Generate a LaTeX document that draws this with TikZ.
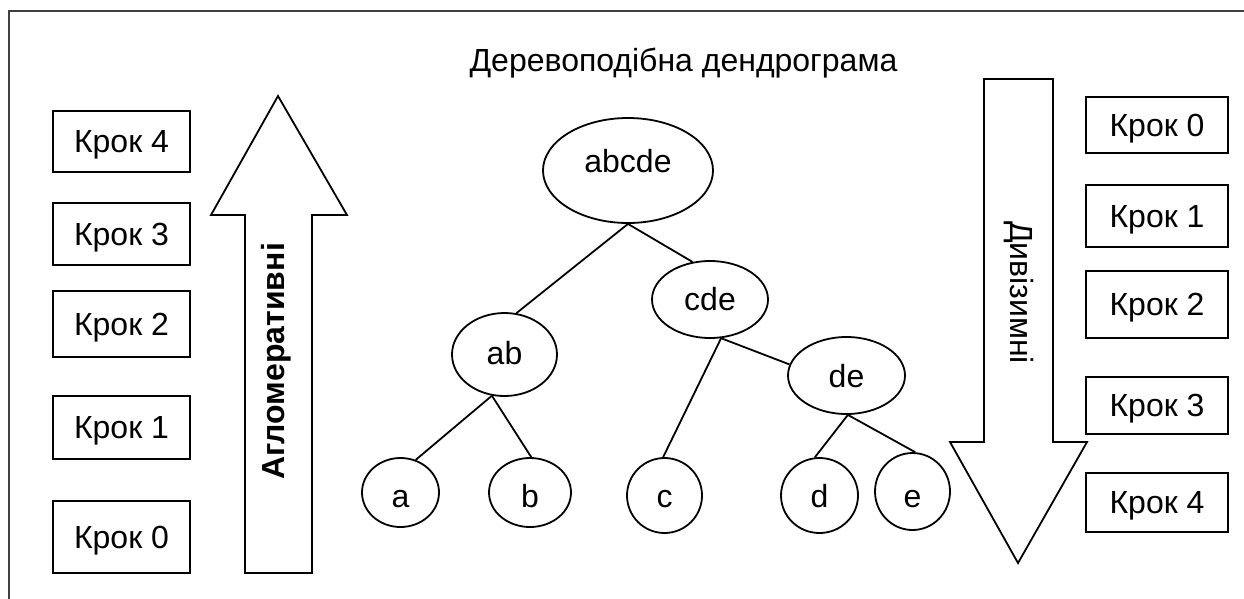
\documentclass[tikz,border=0pt]{standalone}
\usepackage{fontspec}
\setmainfont{Liberation Sans}
\usetikzlibrary{shapes.geometric}
\begin{document}
\begin{tikzpicture}[x=1pt,y=-1pt,
  every node/.style={font=\fontsize{32}{38}\selectfont},
  stepbox/.style={draw, line width=2pt, rectangle, inner sep=0pt, text depth=0pt},
  lbox/.style={stepbox, minimum width=137pt},
  rbox/.style={stepbox, minimum width=142pt},
  tnode/.style={draw, ellipse, line width=1.8pt, inner sep=0pt},
  link/.style={line width=1.8pt},
  bigarrow/.style={draw, line width=1.8pt, line join=miter},
  frameline/.style={line width=2.2pt, black!75}]
\useasboundingbox (0,0) rectangle (1244,598);
% frame
\draw[frameline] (9,600) -- (9,11) -- (1246,11);
% title
\node (title) at (683.5,63) {Деревоподібна дендрограма};
% left step boxes
\node[lbox, minimum height=61pt] (l4) at (121.5,141.5) {Крок 4};
\node[lbox, minimum height=62pt] (l3) at (121.5,234) {Крок 3};
\node[lbox, minimum height=66pt] (l2) at (121.5,324) {Крок 2};
\node[lbox, minimum height=63pt] (l1) at (121.5,427.5) {Крок 1};
\node[lbox, minimum height=72pt] (l0) at (121.5,537) {Крок 0};
% right step boxes
\node[rbox, minimum height=56pt] (r0) at (1157,125) {Крок 0};
\node[rbox, minimum height=62pt] (r1) at (1157,216) {Крок 1};
\node[rbox, minimum height=67pt] (r2) at (1157,304.5) {Крок 2};
\node[rbox, minimum height=57pt] (r3) at (1157,405.5) {Крок 3};
\node[rbox, minimum height=59pt] (r4) at (1157,502.5) {Крок 4};
% big arrows
\draw[bigarrow] (278,96) -- (347,215) -- (312,215) -- (312,573) -- (245,573) -- (245,215) -- (211,215) -- cycle;
\draw[bigarrow] (1018,563) -- (1087,442) -- (1053,442) -- (1053,79) -- (984,79) -- (984,442) -- (950,442) -- cycle;
\node[rotate=90, text depth=0pt, font=\fontsize{32}{38}\selectfont\bfseries] (aggl) at (273,361.5) {Агломеративні};
\node[rotate=-90, text depth=0pt] (divi) at (1022,292.5) {Дивізимні};
% tree
\node[tnode, minimum width=170pt, minimum height=105pt, text height=22pt, text depth=19pt] (abcde) at (628,170.5) {abcde};
\node[tnode, minimum width=105pt, minimum height=83pt, text height=22pt, text depth=3pt] (ab) at (504.5,354.5) {ab};
\node[tnode, minimum width=116pt, minimum height=77pt, text height=22pt, text depth=1pt] (cde) at (710,299.5) {cde};
\node[tnode, minimum width=117pt, minimum height=77pt, text height=23pt, text depth=0pt] (de) at (846.5,375.5) {de};
\node[tnode, minimum width=77pt, minimum height=69pt, text height=29pt, text depth=0pt] (a) at (400.5,492.5) {a};
\node[tnode, minimum width=82pt, minimum height=69pt, text height=29pt, text depth=0pt] (b) at (530,492.5) {b};
\node[tnode, minimum width=75pt, minimum height=75pt, text height=23pt, text depth=0pt] (c) at (664.5,495.5) {c};
\node[tnode, minimum width=77pt, minimum height=75pt, text height=23pt, text depth=0pt] (d) at (819.5,495.5) {d};
\node[tnode, minimum width=75pt, minimum height=77pt, text height=31pt, text depth=0pt] (e) at (912.5,491.5) {e};
\draw[link] (abcde.south) -- (ab.74);
\draw[link] (abcde.south) -- (cde.115);
\draw[link] (ab.253) -- (a.65);
\draw[link] (ab.253) -- (b.88);
\draw[link] (cde.286) -- (c.92);
\draw[link] (cde.286) -- (de.169);
\draw[link] (de.272) -- (d.97);
\draw[link] (de.272) -- (e.86);
\end{tikzpicture}
\end{document}
